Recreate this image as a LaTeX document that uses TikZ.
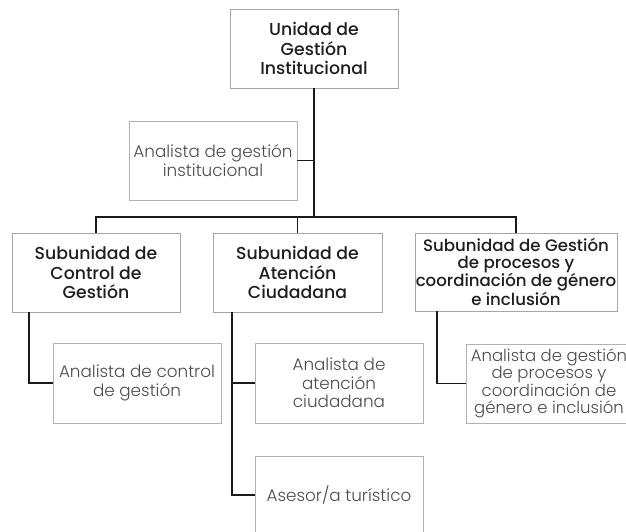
\documentclass[tikz,border=0pt]{standalone}
\usepackage{fontspec}
\setmainfont{Poppins}
\newfontfamily\medfont{Poppins Medium}
\newfontfamily\lightfont{Poppins Light}
\begin{document}
\begin{tikzpicture}[x=1pt,y=-1pt,
  unitbox/.style={draw=black!35, line width=0.9pt, fill=white, align=center,
    font=\medfont\fontsize{17.3}{19.5}\selectfont, text=black!88, inner sep=0pt},
  rolebox/.style={draw=black!30, line width=0.9pt, fill=white, align=center,
    font=\lightfont\fontsize{16.8}{18.5}\selectfont, text=black!70, inner sep=0pt},
  link/.style={draw=black!90, line width=1.3pt}]
\useasboundingbox (0,0) rectangle (626,531);
\clip (0,0) rectangle (626,531);
% nodes
\node[unitbox, minimum width=168pt, minimum height=79pt] (top) at (314,48.5)
  {Unidad de\\Gestión\\Institucional};
\node[rolebox, minimum width=168pt, minimum height=79pt] (ai) at (213,160.5)
  {Analista de gestión\\institucional};
\node[unitbox, minimum width=168pt, minimum height=79pt] (su1) at (96,272.5)
  {Subunidad de\\Control de\\Gestión};
\node[unitbox, minimum width=169pt, minimum height=79pt] (su2) at (297.5,272.5)
  {Subunidad de\\Atención\\Ciudadana};
\node[unitbox, minimum width=202pt, minimum height=78pt,
  font=\medfont\fontsize{16.6}{16.4}\selectfont] (su3) at (516,272)
  {Subunidad de Gestión\\de procesos y\\coordinación de género\\e inclusión};
\node[rolebox, minimum width=168pt, minimum height=80pt] (ac) at (137,383)
  {Analista de control\\de gestión};
\node[rolebox, minimum width=168pt, minimum height=80pt] (aa) at (339,383)
  {Analista de\\atención\\ciudadana};
\node[rolebox, minimum width=168pt, minimum height=78pt] (as) at (339,495)
  {Asesor/a turístico};
\node[rolebox, minimum width=166pt, minimum height=79pt,
  font=\lightfont\fontsize{16.5}{17.5}\selectfont] (ap) at (549,383.5)
  {Analista de gestión\\de procesos y\\coordinación de\\género e inclusión};
% connectors
\coordinate (bus) at (314,217);
\coordinate (d1) at (29,312);
\coordinate (d2) at (232,312);
\coordinate (d3) at (437,311);
\draw[link] (top.south) -- (bus);
\draw[link] (ai.east) -- (ai.east -| top.south);
\draw[link] (su1.north) |- (bus);
\draw[link] (su3.north) |- (bus);
\draw[link] (su2.north) -- (su2.north |- bus);
\draw[link] (d1) |- (ac.west);
\draw[link] (d2) |- (aa.west);
\draw[link] (d2) |- (as.west);
\draw[link] (d3) |- (ap.west);
\end{tikzpicture}
\end{document}
